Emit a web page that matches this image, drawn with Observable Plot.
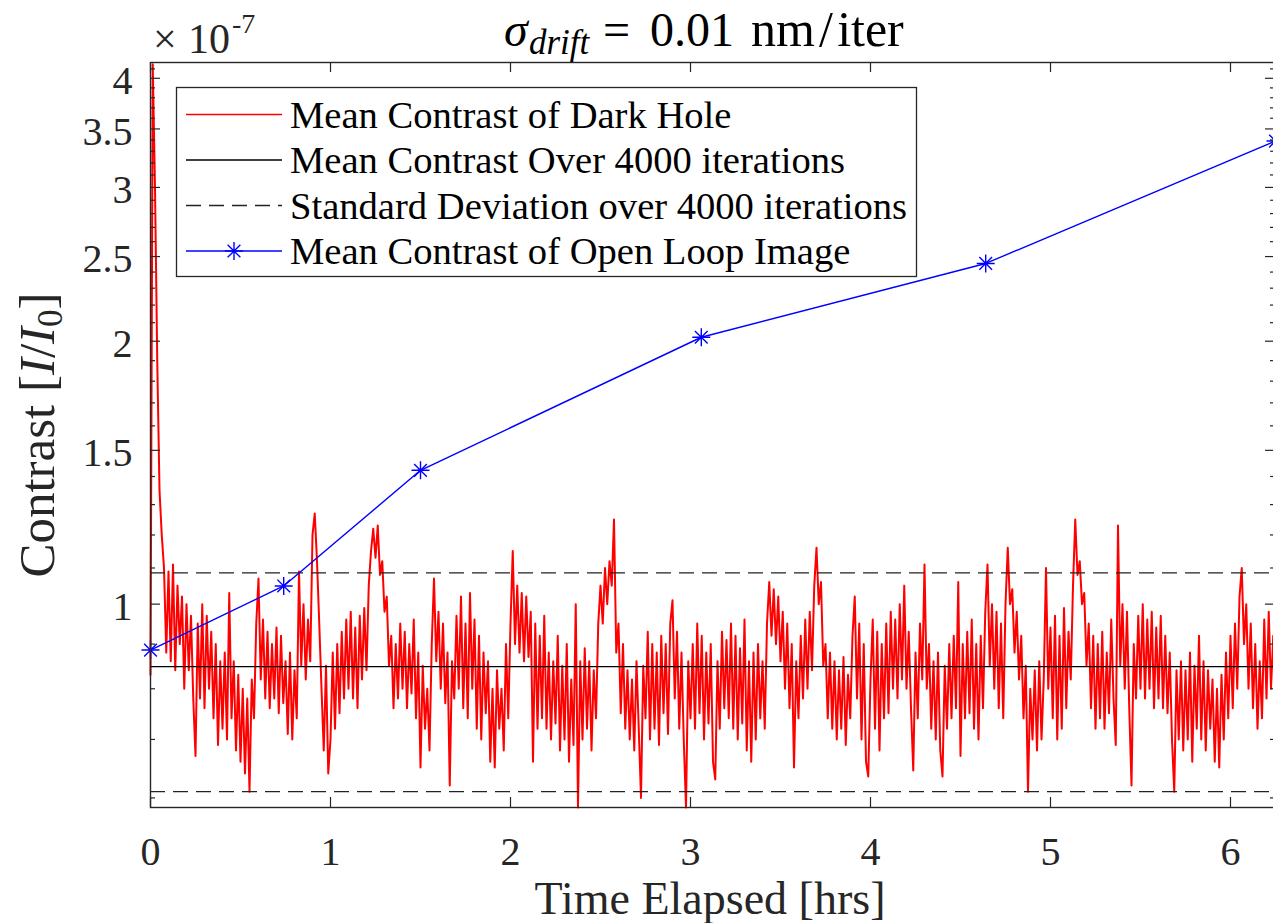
<!DOCTYPE html>
<html><head><meta charset="utf-8">
<script src="https://cdn.jsdelivr.net/npm/d3@7"></script>
<script src="https://cdn.jsdelivr.net/npm/@observablehq/plot@0.6"></script>
<style>
html,body{margin:0;padding:0;background:#fff;}
#chart{position:relative;width:1273px;height:923px;overflow:hidden;}
</style></head><body><div id="chart"></div>
<script>
// ---- data (contrast values in units of 1e-7) ----
const redStep = 0.0125; // hours between plotted samples of the dark-hole contrast
const redValues = [
0.83,4.15,3.0,1.9,1.35,1.2,1.1,0.88,1.09,0.86,1.11,0.84,1.05,0.90,1.02,0.80,1.0,0.84,0.97,0.78,
0.67,0.95,0.78,1.0,0.76,0.97,0.80,0.93,0.74,0.90,0.69,0.86,0.72,0.88,0.70,1.03,0.74,0.86,0.68,0.83,
0.66,0.80,0.64,0.78,0.61,0.82,0.74,0.95,1.07,0.82,0.96,0.78,0.93,0.76,0.90,0.78,0.94,0.75,0.92,0.77,
0.86,0.71,0.88,0.70,0.84,0.74,1.09,0.85,1.0,0.82,0.96,0.86,1.2,1.27,1.12,0.95,0.80,0.68,0.85,0.64,
0.70,0.88,0.72,0.90,0.75,0.93,0.78,0.96,0.80,0.98,0.78,0.94,0.76,0.97,0.82,0.99,0.84,1.05,1.15,1.22,
1.13,1.23,1.08,1.12,0.98,1.02,0.85,0.92,0.76,0.90,0.78,0.95,0.80,0.93,0.76,0.90,0.79,0.96,0.74,0.88,
0.65,0.85,0.72,0.80,0.68,0.90,1.07,0.86,0.98,0.80,0.95,0.77,0.88,0.62,0.86,0.78,0.97,0.80,1.02,0.76,
0.95,0.74,1.03,0.80,0.96,0.72,0.92,0.70,0.88,0.75,0.86,0.66,0.80,0.65,0.84,0.72,0.80,0.68,0.90,0.74,
0.95,1.15,0.90,1.05,0.88,1.03,0.86,1.02,0.87,0.98,0.66,0.95,0.72,0.92,0.74,0.97,0.72,0.88,0.70,0.86,
0.73,0.92,0.68,0.85,0.70,0.90,0.66,0.82,0.69,1.0,0.585,0.86,0.70,0.89,0.72,0.86,0.68,0.84,0.74,0.95,
1.05,0.95,1.10,1.0,1.12,1.05,1.25,0.88,0.95,0.75,0.90,0.72,0.84,0.70,0.82,0.68,0.86,0.72,0.60,0.85,
0.74,0.93,0.70,0.90,0.72,0.88,0.69,0.92,0.75,0.90,0.71,0.95,1.01,0.78,0.93,0.72,0.88,0.70,0.585,0.86,
0.74,0.90,0.72,0.95,0.75,0.92,0.70,0.88,0.73,0.90,0.66,0.63,0.86,0.72,0.93,0.76,0.91,0.74,0.95,0.72,
0.92,0.70,0.89,0.73,0.96,0.68,0.86,0.66,0.88,0.70,0.90,0.74,0.86,0.72,0.95,1.06,0.92,1.04,0.90,1.02,
0.86,0.98,0.80,0.95,0.76,0.90,0.65,0.86,0.74,0.92,0.78,0.96,0.80,0.98,0.84,1.05,1.16,1.0,1.06,0.85,
0.90,0.74,0.88,0.72,0.86,0.70,0.84,0.72,0.87,0.69,0.83,0.74,0.92,1.02,0.78,0.95,0.70,0.90,0.66,0.635,
0.82,0.96,0.72,0.93,0.68,0.90,0.74,0.95,0.75,0.98,0.80,0.96,0.78,1.0,0.82,1.05,0.80,0.93,0.76,0.645,
0.88,0.74,0.95,0.82,1.11,0.80,0.90,0.72,0.86,0.70,0.88,0.68,0.635,0.85,0.72,0.90,0.74,0.92,0.76,1.06,
0.67,0.90,0.74,0.93,0.75,0.96,0.72,0.90,0.70,0.92,0.76,0.98,1.11,0.85,1.0,0.80,0.98,0.76,0.95,0.74,
1.0,1.16,1.0,1.04,0.88,0.98,0.82,0.92,0.74,0.85,0.61,0.80,0.70,0.84,0.68,0.86,0.70,0.82,1.10,0.80,
0.94,0.74,0.97,0.70,0.92,0.72,0.99,0.76,0.93,0.82,1.05,1.25,1.08,1.12,1.0,1.03,0.85,0.95,0.76,0.92,
0.72,0.90,0.74,0.93,0.72,0.88,0.75,0.96,0.78,0.69,1.23,0.85,1.0,0.80,0.98,0.76,0.62,0.90,0.78,0.97,
0.80,1.0,0.78,0.96,0.80,0.98,0.76,0.94,0.78,0.97,0.76,0.92,0.75,0.88,0.70,0.61,0.84,0.70,0.86,0.68,
0.84,0.70,0.88,0.66,0.85,0.72,0.92,0.70,0.86,0.68,0.84,0.72,0.82,0.66,0.80,0.65,0.83,0.70,0.88,0.74,
0.92,0.76,0.95,0.80,1.02,1.10,0.90,1.0,0.80,0.95,0.76,0.90,0.72,0.86,0.74,0.96,0.78,0.98,0.80,0.92,0.82
];
const openLoopTime = [0, 0.74, 1.5, 3.06, 4.64, 6.25];
const openLoopValue = [0.886, 1.049, 1.423, 2.021, 2.455, 3.39];
const meanContrast = 0.848;
const stdContrast = 0.238;
const xTicks = [0, 1, 2, 3, 4, 5, 6];
const yMajorTicks = [1, 1.5, 2, 2.5, 3, 3.5, 4];
const yMinorTicks = [0.6,0.7,0.8,0.9,1.1,1.2,1.3,1.4,1.6,1.7,1.8,1.9,2.1,2.2,2.3,2.4,2.6,2.7,2.8,2.9,3.1,3.2,3.3,3.4,3.6,3.7,3.8,3.9,4.1];
const xDomain = [0, 6.25];
const yDomain = [0.585, 4.17];
const legendLabels = ["Mean Contrast of Dark Hole", "Mean Contrast Over 4000 iterations", "Standard Deviation over 4000 iterations", "Mean Contrast of Open Loop Image"];

// ---- tables ----
const red = redValues.map((v, i) => ({t: i * redStep, v}));
const openLoop = openLoopTime.map((t, i) => ({t, v: openLoopValue[i]}));

const W = 1273, H = 923, ML = 150, MR = -2, MT = 62, MB = 116;
const FW = W - ML - MR, FH = H - MT - MB;
const ink = "#262626";
const serif = "'Liberation Serif', 'Times New Roman', serif";

const asterisk = {draw(ctx, size) {
  const r = Math.sqrt(size / Math.PI), d = r * Math.SQRT1_2;
  ctx.moveTo(-r, 0); ctx.lineTo(r, 0);
  ctx.moveTo(0, -r); ctx.lineTo(0, r);
  ctx.moveTo(-d, -d); ctx.lineTo(d, d);
  ctx.moveTo(-d, d); ctx.lineTo(d, -d);
}};

const plot = Plot.plot({
  width: W, height: H,
  marginLeft: ML, marginRight: MR, marginTop: MT, marginBottom: MB,
  style: {fontFamily: serif, background: "white", overflow: "visible"},
  x: {domain: xDomain, axis: null},
  y: {type: "log", domain: yDomain, axis: null},
  marks: [
    Plot.line(red, {x: "t", y: "v", stroke: "#ff0000", strokeWidth: 2}),
    Plot.ruleY([meanContrast], {stroke: "#000", strokeWidth: 1.4}),
    Plot.ruleY([meanContrast + stdContrast, meanContrast - stdContrast], {stroke: "#222", strokeWidth: 1.4, strokeDasharray: "15,8"}),
    Plot.line(openLoop, {x: "t", y: "v", stroke: "#0000ff", strokeWidth: 1.4}),
    Plot.dot(openLoop, {x: "t", y: "v", symbol: asterisk, r: 9, stroke: "#0000ff", strokeWidth: 1.4, fill: "none"}),
    Plot.ruleX(xTicks, {x: d => d, insetTop: FH - 10, stroke: ink, strokeWidth: 1.2}),
    Plot.ruleX(xTicks, {x: d => d, insetBottom: FH - 10, stroke: ink, strokeWidth: 1.2}),
    Plot.ruleY(yMajorTicks, {y: d => d, insetRight: FW - 10, stroke: ink, strokeWidth: 1.2}),
    Plot.ruleY(yMajorTicks, {y: d => d, insetLeft: FW - 10, stroke: ink, strokeWidth: 1.2}),
    Plot.ruleY(yMinorTicks, {y: d => d, insetRight: FW - 5, stroke: ink, strokeWidth: 1.2}),
    Plot.ruleY(yMinorTicks, {y: d => d, insetLeft: FW - 5, stroke: ink, strokeWidth: 1.2}),
    Plot.frame({stroke: ink, strokeWidth: 1.4}),
    Plot.text(xTicks, {x: d => d, frameAnchor: "bottom", dy: 57, lineAnchor: "bottom", text: d => String(d), fontSize: 40, fill: ink}),
    Plot.text(yMajorTicks, {y: d => d, frameAnchor: "left", dx: -18, dy: 3, textAnchor: "end", lineAnchor: "middle", text: d => String(d), fontSize: 40, fill: ink})
  ]
});
document.getElementById("chart").appendChild(plot);

// ---- annotations: exponent, title, axis labels, legend ----
const svg = d3.select(plot);
const ann = svg.append("g").attr("font-family", serif).attr("text-anchor", "start");

const ex = ann.append("text").attr("y", 53).attr("font-size", 42).attr("fill", ink);
ex.append("tspan").attr("x", 153).text("\u00d7");
ex.append("tspan").attr("x", 188).text("10");
ex.append("tspan").attr("x", 232).attr("y", 33).attr("font-size", 28).text("-7");

const title = ann.append("text").attr("y", 46).attr("font-size", 48).attr("fill", "#000");
title.append("tspan").attr("x", 504).attr("font-style", "italic").text("\u03c3");
title.append("tspan").attr("x", 529).attr("font-style", "italic").attr("font-size", 35).attr("dy", 8).text("drift");
title.append("tspan").attr("x", 603).attr("dy", -8).text("=");
title.append("tspan").attr("x", 650).text("0.01");
title.append("tspan").attr("x", 751).attr("font-size", 50).text("nm\u200a/\u200aiter");

ann.append("text").attr("x", 710).attr("y", 914).attr("text-anchor", "middle").attr("font-size", 46).attr("fill", ink).text("Time Elapsed [hrs]");

const yl = ann.append("text").attr("transform", "translate(54,435) rotate(-90)").attr("text-anchor", "middle").attr("font-size", 51).attr("fill", ink);
yl.append("tspan").text("Contrast [");
yl.append("tspan").attr("font-style", "italic").text("I");
yl.append("tspan").text("/");
yl.append("tspan").attr("font-style", "italic").text("I");
yl.append("tspan").attr("font-size", 35).attr("dy", 8).text("0");
yl.append("tspan").attr("dy", -8).text("]");

const lg = ann.append("g");
lg.append("rect").attr("x", 176.5).attr("y", 87.5).attr("width", 740).attr("height", 189).attr("fill", "white").attr("stroke", ink).attr("stroke-width", 1.3);
const rowY = [114.5, 160, 205.5, 251];
const styles = [
  {stroke: "#ff0000", w: 1.3, dash: null},
  {stroke: "#000", w: 1.4, dash: null},
  {stroke: "#222", w: 1.4, dash: "15,8"},
  {stroke: "#0000ff", w: 1.4, dash: null}
];
legendLabels.forEach((lab, i) => {
  const y = rowY[i], s = styles[i];
  const ln = lg.append("line").attr("x1", 186).attr("x2", 282).attr("y1", y).attr("y2", y).attr("stroke", s.stroke).attr("stroke-width", s.w);
  if (s.dash) ln.attr("stroke-dasharray", s.dash);
  if (i === 3) {
    const r = 9, d = r * Math.SQRT1_2, cx = 234;
    lg.append("path").attr("d", `M${cx - r},${y}H${cx + r}M${cx},${y - r}V${y + r}M${cx - d},${y - d}L${cx + d},${y + d}M${cx - d},${y + d}L${cx + d},${y - d}`).attr("stroke", s.stroke).attr("stroke-width", 1.4).attr("fill", "none");
  }
  lg.append("text").attr("x", 290).attr("y", y + 13).attr("font-size", 38.6).attr("fill", "#000").text(lab);
});
</script></body></html>
